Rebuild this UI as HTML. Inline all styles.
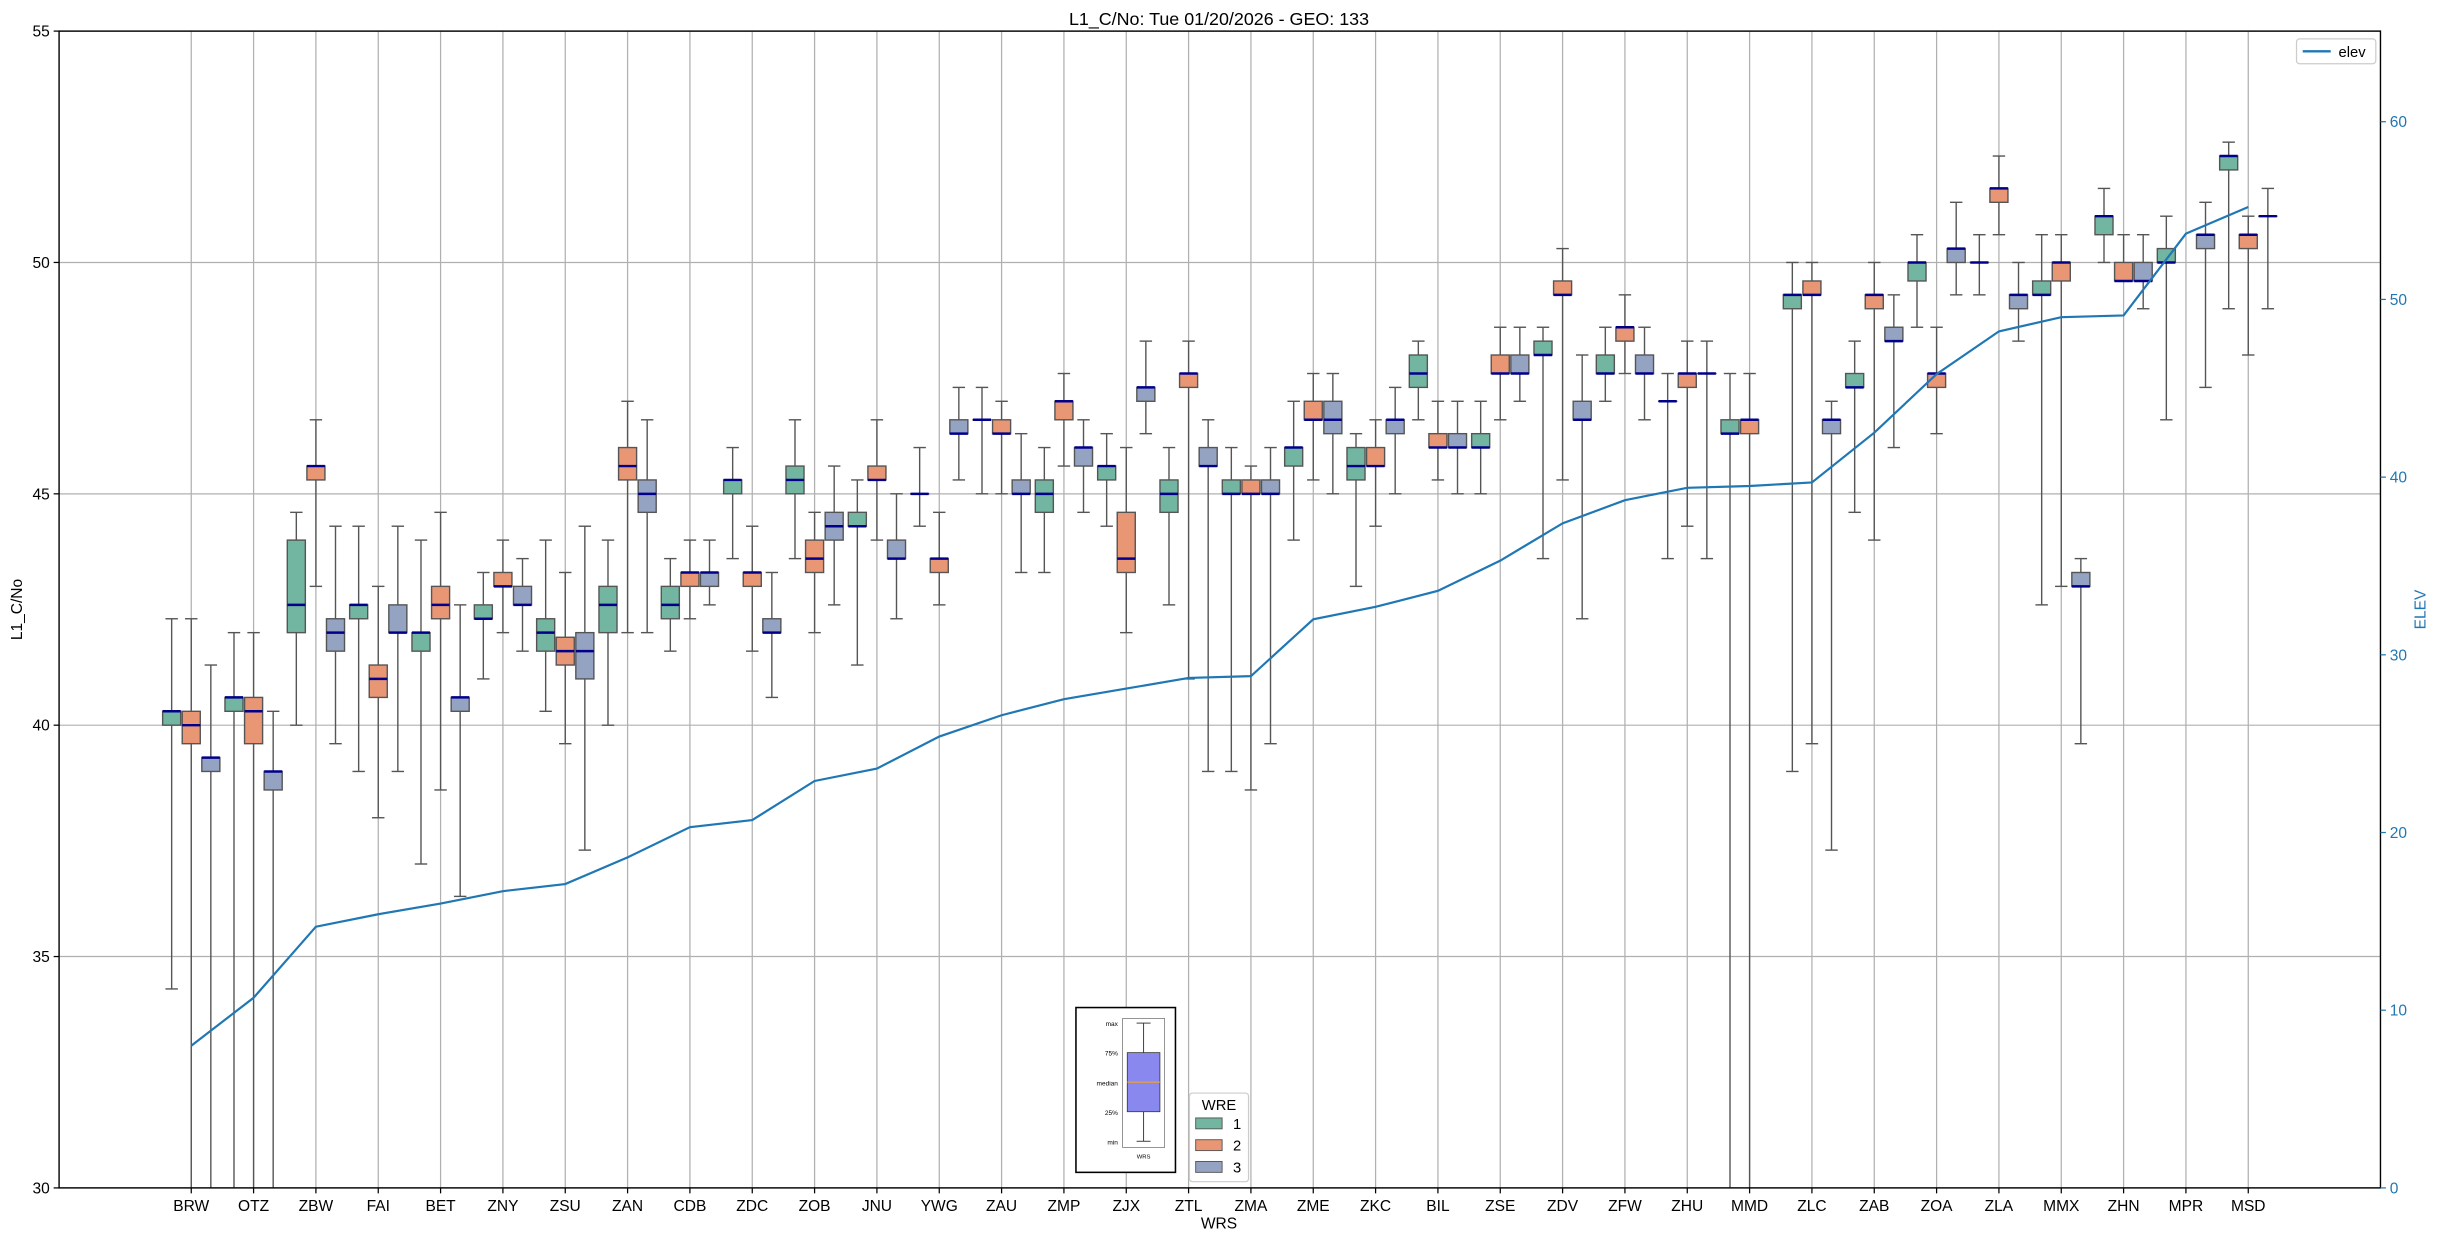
<!DOCTYPE html>
<html><head><meta charset="utf-8"><style>
html,body{margin:0;padding:0;background:#fff;}
svg{display:block;font-family:"Liberation Sans",sans-serif;}
</style></head><body>
<svg id="chart" width="2438" height="1240" viewBox="0 0 1568 797.5" xmlns="http://www.w3.org/2000/svg">
<defs><clipPath id="plotclip"><rect x="38" y="20" width="1493" height="744"/></clipPath></defs>
<rect x="0" y="0" width="1568" height="797.5" fill="#fff"/>
<text x="784" y="16" text-anchor="middle" font-size="11.5">L1_C/No: Tue 01/20/2026 - GEO: 133</text>
<g id="grid"></g>
<g id="boxes" clip-path="url(#plotclip)"></g>
<g id="elevg" clip-path="url(#plotclip)"></g>
<rect x="38" y="20" width="1493" height="744" fill="none" stroke="#000" stroke-width="0.9"/>
<g id="axes"></g>
<text transform="translate(14,392) rotate(-90)" text-anchor="middle" font-size="10">L1_C/No</text>
<text transform="translate(1560,392) rotate(-90)" text-anchor="middle" font-size="10" fill="#1f77b4">ELEV</text>
<text x="784" y="790" text-anchor="middle" font-size="10">WRS</text>
<g>
<rect x="1477" y="25" width="51" height="16" fill="#fff" stroke="#ccc" stroke-width="0.8" rx="2"/>
<line x1="1481" y1="33" x2="1499" y2="33" stroke="#1f77b4" stroke-width="1.5"/>
<text x="1504" y="36.5" font-size="9.5">elev</text>
</g>
<g>
<rect x="692" y="648" width="64" height="106" fill="#fff" stroke="#000" stroke-width="1"/>
<rect x="722" y="655" width="27" height="83" fill="#fff" stroke="#777" stroke-width="0.5"/>
<line x1="735.5" y1="658" x2="735.5" y2="734" stroke="#333" stroke-width="0.6"/>
<line x1="731" y1="658" x2="740" y2="658" stroke="#333" stroke-width="0.6"/>
<line x1="731" y1="734" x2="740" y2="734" stroke="#333" stroke-width="0.6"/>
<rect x="725" y="677" width="21" height="38" fill="#8888ee" stroke="#333" stroke-width="0.5"/>
<line x1="725" y1="696" x2="746" y2="696" stroke="#f0a030" stroke-width="0.8"/>
<g font-size="4.2" text-anchor="end"><text x="719" y="660">max</text><text x="719" y="679">75%</text><text x="719" y="698">median</text><text x="719" y="717">25%</text><text x="719" y="736">min</text></g>
<text x="735.5" y="745" font-size="3.8" text-anchor="middle">WRS</text>
</g>
<g>
<rect x="765" y="703" width="38" height="57" fill="#fff" stroke="#ccc" stroke-width="0.8" rx="2"/>
<text x="784" y="714" font-size="9.5" text-anchor="middle">WRE</text>
<rect x="769" y="719" width="17" height="7" fill="#72b6a1" stroke="#555" stroke-width="0.6"/><text x="793" y="726" font-size="9.5">1</text>
<rect x="769" y="733" width="17" height="7" fill="#e99675" stroke="#555" stroke-width="0.6"/><text x="793" y="740" font-size="9.5">2</text>
<rect x="769" y="747" width="17" height="7" fill="#95a3c3" stroke="#555" stroke-width="0.6"/><text x="793" y="754" font-size="9.5">3</text>
</g>
</svg>
<script>
const categories=["BRW","OTZ","ZBW","FAI","BET","ZNY","ZSU","ZAN","CDB","ZDC","ZOB","JNU","YWG","ZAU","ZMP","ZJX","ZTL","ZMA","ZME","ZKC","BIL","ZSE","ZDV","ZFW","ZHU","MMD","ZLC","ZAB","ZOA","ZLA","MMX","ZHN","MPR","MSD"];
// [min, q1, median, q3, max] per station; null = missing
const wre1=[[34.3,40.0,40.3,40.3,42.3],[28,40.3,40.6,40.6,42.0],[40.0,42.0,42.6,44.0,44.6],[39.0,42.3,42.6,42.6,44.3],[37.0,41.6,42.0,42.0,44.0],[41.0,42.3,42.3,42.6,43.3],[40.3,41.6,42.0,42.3,44.0],[40.0,42.0,42.6,43.0,44.0],[41.6,42.3,42.6,43.0,43.6],[43.6,45.0,45.3,45.3,46.0],[43.6,45.0,45.3,45.6,46.6],[41.3,44.3,44.3,44.6,45.3],[44.3,45.0,45.0,45.0,46.0],[45.0,46.6,46.6,46.6,47.3],[43.3,44.6,45.0,45.3,46.0],[44.3,45.3,45.6,45.6,46.3],[42.6,44.6,45.0,45.3,46.0],[39.0,45.0,45.0,45.3,46.0],[44.0,45.6,46.0,46.0,47.0],[43.0,45.3,45.6,46.0,46.3],[46.6,47.3,47.6,48.0,48.3],[45.0,46.0,46.0,46.3,47.0],[43.6,48.0,48.0,48.3,48.6],[47.0,47.6,47.6,48.0,48.6],[43.6,47.0,47.0,47.0,47.6],[28,46.3,46.3,46.6,47.6],[39.0,49.0,49.3,49.3,50.0],[44.6,47.3,47.3,47.6,48.3],[48.6,49.6,50.0,50.0,50.6],[49.3,50.0,50.0,50.0,50.6],[42.6,49.3,49.3,49.6,50.6],[50.0,50.6,51.0,51.0,51.6],[46.6,50.0,50.0,50.3,51.0],[49.0,52.0,52.3,52.3,52.6]];
const wre2=[[28,39.6,40.0,40.3,42.3],[28,39.6,40.3,40.6,42.0],[43.0,45.3,45.6,45.6,46.6],[38.0,40.6,41.0,41.3,43.0],[38.6,42.3,42.6,43.0,44.6],[42.0,43.0,43.0,43.3,44.0],[39.6,41.3,41.6,41.9,43.3],[42.0,45.3,45.6,46.0,47.0],[42.3,43.0,43.3,43.3,44.0],[41.6,43.0,43.3,43.3,44.3],[42.0,43.3,43.6,44.0,44.6],[44.0,45.3,45.3,45.6,46.6],[42.6,43.3,43.6,43.6,44.6],[45.0,46.3,46.3,46.6,47.0],[45.6,46.6,47.0,47.0,47.6],[42.0,43.3,43.6,44.6,46.0],[41.0,47.3,47.6,47.6,48.3],[38.6,45.0,45.0,45.3,45.6],[45.3,46.6,46.6,47.0,47.6],[44.3,45.6,45.6,46.0,46.6],[45.3,46.0,46.0,46.3,47.0],[46.6,47.6,47.6,48.0,48.6],[45.3,49.3,49.3,49.6,50.3],[47.6,48.3,48.6,48.6,49.3],[44.3,47.3,47.6,47.6,48.3],[28,46.3,46.6,46.6,47.6],[39.6,49.3,49.3,49.6,50.0],[44.0,49.0,49.3,49.3,50.0],[46.3,47.3,47.6,47.6,48.6],[50.6,51.3,51.6,51.6,52.3],[43.0,49.6,50.0,50.0,50.6],[49.6,49.6,49.6,50.0,50.6],null,[48.0,50.3,50.6,50.6,51.0]];
const wre3=[[28,39.0,39.3,39.3,41.3],[28,38.6,39.0,39.0,40.3],[39.6,41.6,42.0,42.3,44.3],[39.0,42.0,42.0,42.6,44.3],[36.3,40.3,40.6,40.6,42.6],[41.6,42.6,42.6,43.0,43.6],[37.3,41.0,41.6,42.0,44.3],[42.0,44.6,45.0,45.3,46.6],[42.6,43.0,43.3,43.3,44.0],[40.6,42.0,42.0,42.3,43.3],[42.6,44.0,44.3,44.6,45.6],[42.3,43.6,43.6,44.0,45.0],[45.3,46.3,46.3,46.6,47.3],[43.3,45.0,45.0,45.3,46.3],[44.6,45.6,46.0,46.0,46.6],[46.3,47.0,47.3,47.3,48.3],[39.0,45.6,45.6,46.0,46.6],[39.6,45.0,45.0,45.3,46.0],[45.0,46.3,46.6,47.0,47.6],[45.0,46.3,46.6,46.6,47.3],[45.0,46.0,46.0,46.3,47.0],[47.0,47.6,47.6,48.0,48.6],[42.3,46.6,46.6,47.0,48.0],[46.6,47.6,47.6,48.0,48.6],[43.6,47.6,47.6,47.6,48.3],null,[37.3,46.3,46.6,46.6,47.0],[46.0,48.3,48.3,48.6,49.3],[49.3,50.0,50.3,50.3,51.3],[48.3,49.0,49.3,49.3,50.0],[39.6,43.0,43.0,43.3,43.6],[49.0,49.6,49.6,50.0,50.6],[47.3,50.3,50.6,50.6,51.3],[49.0,51.0,51.0,51.0,51.6]];
const elev=[8.0,10.7,14.7,15.4,16.0,16.7,17.1,18.6,20.3,20.7,22.9,23.6,25.4,26.6,27.5,28.1,28.7,28.8,32.0,32.7,33.6,35.3,37.4,38.7,39.4,39.5,39.7,42.5,45.8,48.2,49.0,49.1,53.7,55.2];
const yTicks=[30,35,40,45,50,55];
const y2Ticks=[0,10,20,30,40,50,60];

const NS="http://www.w3.org/2000/svg";
const X0=38,X1=1531,Y0=20,Y1=764;
const xc=i=>123+i*40.09;
const y=v=>Y1-(v-30)*(Y1-Y0)/25;
const y2=v=>Y1-v*(Y1-Y0)/65.1;
function mk(tag,attrs,parent){const e=document.createElementNS(NS,tag);for(const k in attrs)e.setAttribute(k,attrs[k]);parent.appendChild(e);return e;}
const grid=document.getElementById('grid'),boxes=document.getElementById('boxes'),axes=document.getElementById('axes'),eg=document.getElementById('elevg');

yTicks.forEach(t=>{
  const g=mk('line',{x1:X0,x2:X1,y1:y(t),y2:y(t),stroke:'#b0b0b0','stroke-width':0.8},grid);
  
  
  mk('line',{x1:X0-3.5,x2:X0,y1:y(t),y2:y(t),stroke:'#000','stroke-width':0.8},axes);
  const tx=mk('text',{x:X0-6,y:y(t)+3.5,'text-anchor':'end','font-size':10},axes);
  tx.textContent=t;
  
  
});
y2Ticks.forEach(t=>{
  mk('line',{x1:X1,x2:X1+3.5,y1:y2(t),y2:y2(t),stroke:'#1f77b4','stroke-width':0.8},axes);
  const tx=mk('text',{x:X1+6,y:y2(t)+3.5,'font-size':10,fill:'#1f77b4'},axes);
  tx.textContent=t;
  
  
});
categories.forEach((c,i)=>{
  const g=mk('line',{x1:xc(i),x2:xc(i),y1:Y0,y2:Y1,stroke:'#b0b0b0','stroke-width':0.8},grid);
  
  
  mk('line',{x1:xc(i),x2:xc(i),y1:Y1,y2:Y1+3.5,stroke:'#000','stroke-width':0.8},axes);
  const tx=mk('text',{x:xc(i),y:Y1+15,'text-anchor':'middle','font-size':10},axes);
  tx.textContent=c;
  
  
});
const series=[[wre1,'#72b6a1',-12.6],[wre2,'#e99675',0],[wre3,'#95a3c3',12.6]];
series.forEach(([data,col,off],si)=>{
  data.forEach((d,i)=>{
    if(!d)return;
    const cx=xc(i)+off,w=11.6;
    const g=mk('g',{},boxes);
    
    
    const s={stroke:'#555','stroke-width':0.9};
    mk('line',Object.assign({x1:cx,x2:cx,y1:y(d[0]),y2:y(d[4])},s),g);
    mk('line',Object.assign({x1:cx-4,x2:cx+4,y1:y(d[0]),y2:y(d[0])},s),g);
    mk('line',Object.assign({x1:cx-4,x2:cx+4,y1:y(d[4]),y2:y(d[4])},s),g);
    mk('rect',Object.assign({x:cx-w/2,y:y(d[3]),width:w,height:Math.max(0.01,y(d[1])-y(d[3])),fill:col},s),g);
    mk('line',{x1:cx-w/2,x2:cx+w/2,y1:y(d[2]),y2:y(d[2]),stroke:'#00008b','stroke-width':1.6},g);
  });
});
const pts=elev.map((v,i)=>xc(i).toFixed(2)+','+y2(v).toFixed(2)).join(' ');
const pl=mk('polyline',{points:pts,fill:'none',stroke:'#1f77b4','stroke-width':1.4},eg);


</script>
</body></html>
